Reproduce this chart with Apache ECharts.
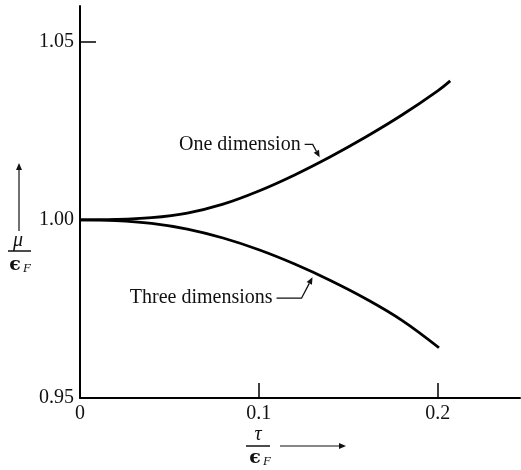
<!DOCTYPE html>
<html>
<head>
<meta charset="utf-8">
<script src="https://cdn.jsdelivr.net/npm/echarts@6/dist/echarts.min.js"></script>
<style>
  html, body { margin: 0; padding: 0; background: #fff; }
  #chart { width: 521px; height: 470px; }
</style>
</head>
<body>
<div id="chart"></div>
<script>
// tau / eF values and mu / eF for the two curves
var oneDimX = [0, 0.02, 0.04, 0.06, 0.08, 0.10, 0.12, 0.14, 0.16, 0.18, 0.20, 0.207]
var oneDimY = [1.0000, 1.0001, 1.0006, 1.0019, 1.0044, 1.0081, 1.0126, 1.0177, 1.0233, 1.0294, 1.0362, 1.0390]
var threeDimX = [0, 0.02, 0.04, 0.06, 0.08, 0.10, 0.12, 0.14, 0.16, 0.18, 0.2007]
var threeDimY = [1.0000, 0.9998, 0.9990, 0.9974, 0.9949, 0.9916, 0.9876, 0.9830, 0.9778, 0.9718, 0.9641]
var xTickLabels = ['0', '0.1', '0.2']
var yTickLabels = ['0.95', '1.00', '1.05']

var SERIF = '"Liberation Serif", "DejaVu Serif", serif'

function pairs(xs, ys) {
  return xs.map(function (x, i) { return [x, ys[i]] })
}

var chart = echarts.init(document.getElementById('chart'), null, { renderer: 'canvas' })

var options = {
  animation: false,
  backgroundColor: '#fff',
  grid: { left: 80, top: 6, width: 440, height: 392 },
  xAxis: {
    type: 'value',
    min: 0,
    max: 0.246,
    interval: 0.1,
    axisLine: { lineStyle: { color: '#000', width: 2 } },
    axisTick: { inside: true, length: 15, lineStyle: { color: '#000', width: 1.5 } },
    splitLine: { show: false },
    axisLabel: {
      color: '#111',
      fontFamily: SERIF,
      fontSize: 20,
      margin: 6,
      showMaxLabel: false,
      formatter: function (v) { return xTickLabels[Math.round(v * 10)] || '' }
    }
  },
  yAxis: {
    type: 'value',
    min: 0.95,
    max: 1.06,
    interval: 0.05,
    axisLine: { lineStyle: { color: '#000', width: 2 } },
    axisTick: { inside: true, length: 16, lineStyle: { color: '#000', width: 1.5 } },
    splitLine: { show: false },
    axisLabel: {
      color: '#111',
      fontFamily: SERIF,
      fontSize: 20,
      margin: 6,
      showMaxLabel: false,
      formatter: function (v) { return yTickLabels[Math.round((v - 0.95) / 0.05)] || '' }
    }
  },
  series: [
    {
      name: 'One dimension',
      type: 'line',
      data: pairs(oneDimX, oneDimY),
      showSymbol: false,
      smooth: 0.4,
      lineStyle: { color: '#000', width: 2.8 }
    },
    {
      name: 'Three dimensions',
      type: 'line',
      data: pairs(threeDimX, threeDimY),
      showSymbol: false,
      smooth: 0.4,
      lineStyle: { color: '#000', width: 2.8 }
    }
  ]
}
chart.setOption(options)

// arrow: polyline through pts with a filled head at the last point
function arrow(pts, w) {
  var n = pts.length
  var a = pts[n - 2], b = pts[n - 1]
  var dx = b[0] - a[0], dy = b[1] - a[1]
  var len = Math.sqrt(dx * dx + dy * dy)
  var ux = dx / len, uy = dy / len
  var hl = 7, hw = 3
  var base = [b[0] - ux * hl, b[1] - uy * hl]
  return [
    { type: 'polyline', shape: { points: pts.slice(0, n - 1).concat([base]) }, style: { stroke: '#111', lineWidth: w || 1.3, fill: null } },
    { type: 'polygon', shape: { points: [b, [base[0] - uy * hw, base[1] + ux * hw], [base[0] + uy * hw, base[1] - ux * hw]] }, style: { fill: '#111' } }
  ]
}

// annotations anchored to the curves
var p1 = chart.convertToPixel({ gridIndex: 0 }, [0.134, 1.0164])
var tip1 = [p1[0], p1[1] - 4]
var elb1 = [tip1[0] - 7, tip1[1] - 13]
var st1 = [elb1[0] - 8, elb1[1]]

var p3 = chart.convertToPixel({ gridIndex: 0 }, [0.130, 0.9853])
var tip3 = [p3[0], p3[1] + 5]
var elb3 = [tip3[0] - 11, tip3[1] + 21]
var st3 = [elb3[0] - 25, elb3[1]]

var graphics = []
graphics = graphics.concat(arrow([st1, elb1, tip1]))
graphics = graphics.concat(arrow([st3, elb3, tip3]))
graphics.push(
  { type: 'text', x: st1[0] - 4, y: st1[1], style: { text: 'One dimension', fill: '#111', font: '20px ' + SERIF, textAlign: 'right', textVerticalAlign: 'middle' } },
  { type: 'text', x: st3[0] - 4, y: st3[1], style: { text: 'Three dimensions', fill: '#111', font: '20px ' + SERIF, textAlign: 'right', textVerticalAlign: 'middle' } },

  // y axis name  mu / eF with upward arrow
  { type: 'text', x: 18, y: 241, style: { text: 'μ', fill: '#111', font: 'italic 20px ' + SERIF, textAlign: 'center', textVerticalAlign: 'middle' } },
  { type: 'line', shape: { x1: 8, y1: 251, x2: 31, y2: 251 }, style: { stroke: '#111', lineWidth: 1.5 } },
  { type: 'text', x: 15, y: 265, style: { text: 'ϵ', fill: '#111', font: 'bold 19px "DejaVu Serif", serif', textAlign: 'center', textVerticalAlign: 'middle' } },
  { type: 'text', x: 23, y: 269, style: { text: 'F', fill: '#111', font: 'italic 13px ' + SERIF, textAlign: 'left', textVerticalAlign: 'middle' } },

  // x axis name  tau / eF with right arrow
  { type: 'text', x: 258, y: 435, style: { text: 'τ', fill: '#111', font: 'italic 20px ' + SERIF, textAlign: 'center', textVerticalAlign: 'middle' } },
  { type: 'line', shape: { x1: 246, y1: 446, x2: 270, y2: 446 }, style: { stroke: '#111', lineWidth: 1.5 } },
  { type: 'text', x: 255, y: 458, style: { text: 'ϵ', fill: '#111', font: 'bold 19px "DejaVu Serif", serif', textAlign: 'center', textVerticalAlign: 'middle' } },
  { type: 'text', x: 263, y: 462, style: { text: 'F', fill: '#111', font: 'italic 13px ' + SERIF, textAlign: 'left', textVerticalAlign: 'middle' } }
)
graphics = graphics.concat(arrow([[19, 231], [19, 163]], 1.2))
graphics = graphics.concat(arrow([[280, 446], [346, 446]], 1.2))

chart.setOption({ graphic: graphics })
</script>
</body>
</html>
